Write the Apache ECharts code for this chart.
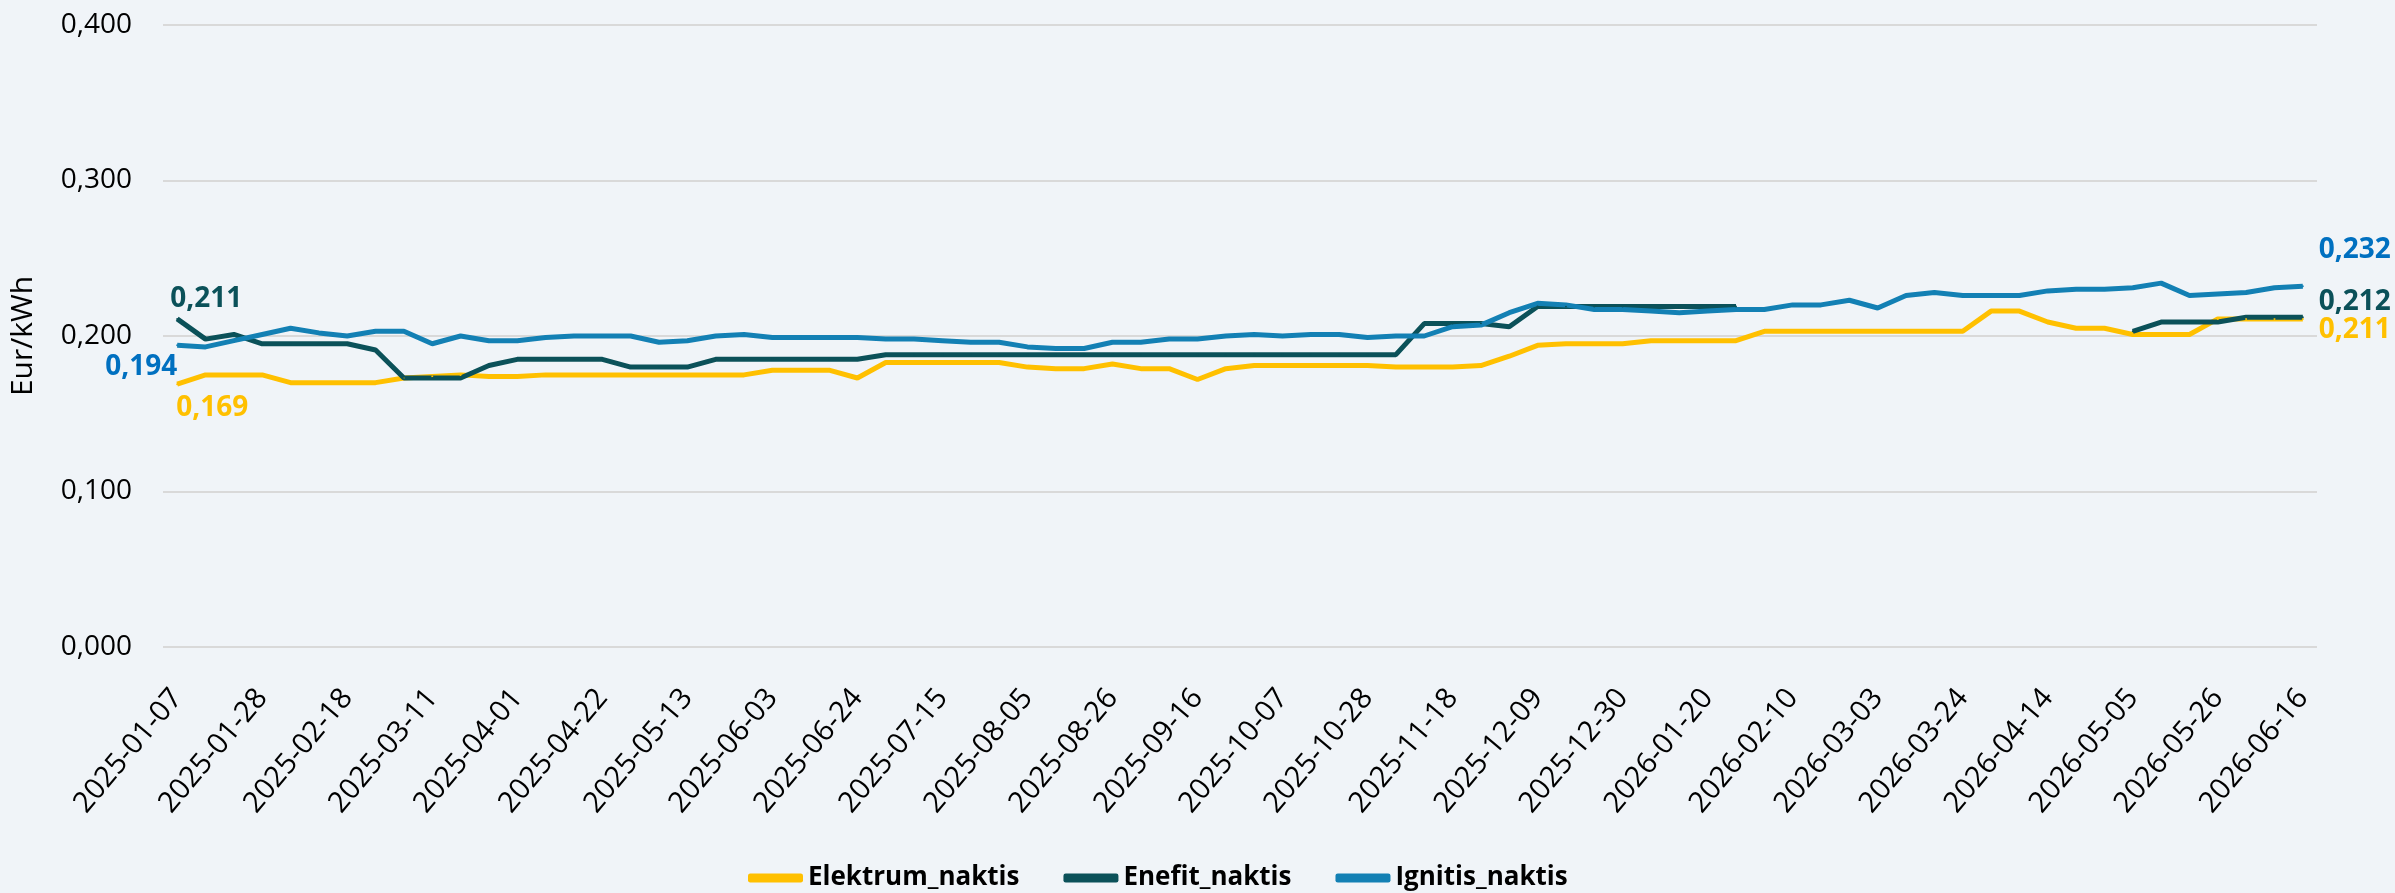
<!DOCTYPE html>
<html>
<head>
<meta charset="utf-8">
<script src="https://cdn.jsdelivr.net/npm/echarts@6/dist/echarts.min.js"></script>
<style>
    html, body { margin: 0; padding: 0; background: #F0F4F8; }
    #chart { width: 2395px; height: 893px; }
</style>
</head>
<body>
<div id="chart"></div>
<script>
    var dates = [
        '2025-01-07', '2025-01-14', '2025-01-21', '2025-01-28', '2025-02-04', '2025-02-11', '2025-02-18', '2025-02-25',
        '2025-03-04', '2025-03-11', '2025-03-18', '2025-03-25', '2025-04-01', '2025-04-08', '2025-04-15', '2025-04-22',
        '2025-04-29', '2025-05-06', '2025-05-13', '2025-05-20', '2025-05-27', '2025-06-03', '2025-06-10', '2025-06-17',
        '2025-06-24', '2025-07-01', '2025-07-08', '2025-07-15', '2025-07-22', '2025-07-29', '2025-08-05', '2025-08-12',
        '2025-08-19', '2025-08-26', '2025-09-02', '2025-09-09', '2025-09-16', '2025-09-23', '2025-09-30', '2025-10-07',
        '2025-10-14', '2025-10-21', '2025-10-28', '2025-11-04', '2025-11-11', '2025-11-18', '2025-11-25', '2025-12-02',
        '2025-12-09', '2025-12-16', '2025-12-23', '2025-12-30', '2026-01-06', '2026-01-13', '2026-01-20', '2026-01-27',
        '2026-02-03', '2026-02-10', '2026-02-17', '2026-02-24', '2026-03-03', '2026-03-10', '2026-03-17', '2026-03-24',
        '2026-03-31', '2026-04-07', '2026-04-14', '2026-04-21', '2026-04-28', '2026-05-05', '2026-05-12', '2026-05-19',
        '2026-05-26', '2026-06-02', '2026-06-09', '2026-06-16'
    ];

    var elektrum = [
        0.169, 0.175, 0.175, 0.175, 0.170, 0.170, 0.170, 0.170, 0.173, 0.174, 0.175, 0.174, 0.174, 0.175, 0.175,
        0.175, 0.175, 0.175, 0.175, 0.175, 0.175, 0.178, 0.178, 0.178, 0.173, 0.183, 0.183, 0.183, 0.183, 0.183,
        0.180, 0.179, 0.179, 0.182, 0.179, 0.179, 0.172, 0.179, 0.181, 0.181, 0.181, 0.181, 0.181, 0.180, 0.180,
        0.180, 0.181, 0.187, 0.194, 0.195, 0.195, 0.195, 0.197, 0.197, 0.197, 0.197, 0.203, 0.203, 0.203, 0.203,
        0.203, 0.203, 0.203, 0.203, 0.216, 0.216, 0.209, 0.205, 0.205, 0.201, 0.201, 0.201, 0.211, 0.211, 0.211,
        0.211
    ];

    var enefit = [
        0.211, 0.198, 0.201, 0.195, 0.195, 0.195, 0.195, 0.191, 0.173, 0.173, 0.173, 0.181, 0.185, 0.185, 0.185,
        0.185, 0.180, 0.180, 0.180, 0.185, 0.185, 0.185, 0.185, 0.185, 0.185, 0.188, 0.188, 0.188, 0.188, 0.188,
        0.188, 0.188, 0.188, 0.188, 0.188, 0.188, 0.188, 0.188, 0.188, 0.188, 0.188, 0.188, 0.188, 0.188, 0.208,
        0.208, 0.208, 0.206, 0.219, 0.219, 0.219, 0.219, 0.219, 0.219, 0.219, 0.219, null, null, null, null,
        null, null, null, null, null, null, null, null, null, 0.203, 0.209, 0.209, 0.209, 0.212, 0.212,
        0.212
    ];

    var ignitis = [
        0.194, 0.193, 0.197, 0.201, 0.205, 0.202, 0.200, 0.203, 0.203, 0.195, 0.200, 0.197, 0.197, 0.199, 0.200,
        0.200, 0.200, 0.196, 0.197, 0.200, 0.201, 0.199, 0.199, 0.199, 0.199, 0.198, 0.198, 0.197, 0.196, 0.196,
        0.193, 0.192, 0.192, 0.196, 0.196, 0.198, 0.198, 0.200, 0.201, 0.200, 0.201, 0.201, 0.199, 0.200, 0.200,
        0.206, 0.207, 0.215, 0.221, 0.220, 0.217, 0.217, 0.216, 0.215, 0.216, 0.217, 0.217, 0.220, 0.220, 0.223,
        0.218, 0.226, 0.228, 0.226, 0.226, 0.226, 0.229, 0.230, 0.230, 0.231, 0.234, 0.226, 0.227, 0.228, 0.231,
        0.232
    ];

    var FONT = '"Open Sans", "Liberation Sans", sans-serif';

    function fmt(v) {
        return v.toFixed(3).replace('.', ',');
    }

    // only first and last point get a value label
    function withEndLabels(values, color, first, last) {
        var lastIdx = values.length - 1;
        return values.map(function (v, i) {
            var conf = i === 0 ? first : (i === lastIdx ? last : null);
            if (!conf || v == null) {
                return v;
            }
            return {
                value: v,
                label: {
                    show: true,
                    position: conf.position,
                    distance: 5,
                    offset: conf.offset,
                    formatter: function (p) { return fmt(p.value); },
                    color: color,
                    fontFamily: FONT,
                    fontWeight: 'bold',
                    fontSize: 28
                }
            };
        });
    }

    function lineSeries(name, values, color, labelColor, first, last) {
        return {
            name: name,
            type: 'line',
            data: withEndLabels(values, labelColor, first, last),
            symbol: 'circle',
            symbolSize: 2,
            showSymbol: true,
            connectNulls: false,
            itemStyle: { color: color },
            lineStyle: { color: color, width: 5 },
            emphasis: { disabled: true }
        };
    }

    var chart = echarts.init(document.getElementById('chart'));

    var option = {
        animation: false,
        backgroundColor: '#F0F4F8',
        textStyle: { fontFamily: FONT },
        grid: {
            left: 157,
            right: 78,
            top: 25,
            bottom: 246,
            containLabel: false
        },
        legend: {
            left: 743,
            top: 860,
            itemWidth: 55,
            itemHeight: 9,
            itemGap: 44,
            icon: 'roundRect',
            textStyle: {
                fontFamily: FONT,
                fontWeight: 'bold',
                fontSize: 26,
                color: '#000'
            },
            data: ['Elektrum_naktis', 'Enefit_naktis', 'Ignitis_naktis']
        },
        xAxis: {
            type: 'category',
            data: dates,
            boundaryGap: true,
            axisLine: { show: false },
            axisTick: { show: false },
            splitLine: { show: false },
            axisLabel: {
                interval: 2,
                rotate: 50,
                margin: 46,
                fontSize: 29,
                fontFamily: FONT,
                color: '#000'
            }
        },
        yAxis: {
            type: 'value',
            min: 0,
            max: 0.4,
            interval: 0.1,
            name: 'Eur/kWh',
            nameLocation: 'middle',
            nameRotate: 90,
            nameGap: 125,
            nameTextStyle: {
                fontFamily: FONT,
                fontSize: 30,
                color: '#000'
            },
            axisLine: { show: false },
            axisTick: { show: false },
            splitLine: { lineStyle: { color: '#D9D9D9', width: 2 } },
            axisLabel: {
                margin: 31,
                fontSize: 28,
                fontFamily: FONT,
                color: '#000',
                formatter: function (v) { return fmt(v); }
            }
        },
        series: [
            lineSeries('Elektrum_naktis', elektrum, '#FFC000', '#FFC000',
                { position: 'bottom', offset: [35, 4] },
                { position: 'right', offset: [10, 11] }),
            lineSeries('Enefit_naktis', enefit, '#0B5159', '#0B5159',
                { position: 'top', offset: [29, 0] },
                { position: 'right', offset: [10, -15] }),
            lineSeries('Ignitis_naktis', ignitis, '#1380B4', '#0070C0',
                { position: 'left', offset: [6, 22] },
                { position: 'right', offset: [10, -36] })
        ]
    };

    chart.setOption(option);
</script>
</body>
</html>
